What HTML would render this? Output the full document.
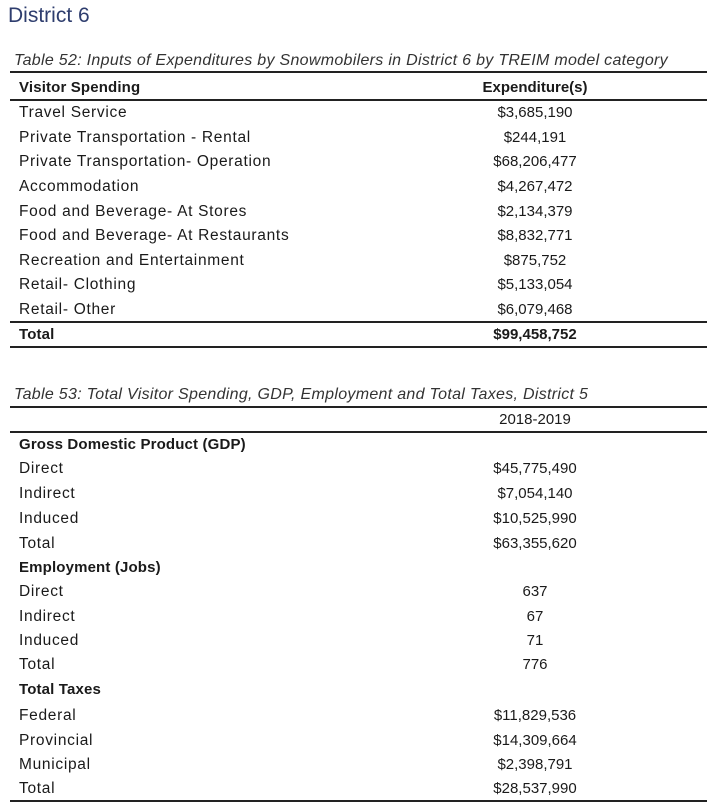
<!DOCTYPE html>
<html><head><meta charset="utf-8"><style>
body{margin:0;width:718px;height:808px;background:#fff;position:relative;overflow:hidden;font-family:"Liberation Sans",sans-serif;color:#1a1a1a}
.t{position:absolute;font-size:15px;line-height:20px;white-space:nowrap}
.l{left:19px;font-size:15.5px;letter-spacing:0.7px}
.l.b{font-size:15px;letter-spacing:0.15px}
.v{left:435px;width:200px;text-align:center}
.b{font-weight:bold}
.c{position:absolute;left:14px;font-size:16px;font-style:italic;color:#333;line-height:20px;white-space:nowrap;letter-spacing:0.3px}
.h{position:absolute;left:10px;width:697px;height:2px;background:#222}
</style></head><body>
<div style="position:absolute;left:8px;top:3px;font-size:21px;color:#2e3d6e;line-height:26px">District 6</div>

<div class="c" style="top:51px">Table 52: Inputs of Expenditures by Snowmobilers in District 6 by TREIM model category</div>
<div class="h" style="top:71px"></div>
<div class="t l b" style="top:78px">Visitor Spending</div><div class="t v b" style="top:78px">Expenditure(s)</div>
<div class="h" style="top:99px"></div>
<div class="t l" style="top:103px">Travel Service</div><div class="t v" style="top:103px">$3,685,190</div>
<div class="t l" style="top:128px">Private Transportation - Rental</div><div class="t v" style="top:128px">$244,191</div>
<div class="t l" style="top:152px">Private Transportation- Operation</div><div class="t v" style="top:152px">$68,206,477</div>
<div class="t l" style="top:177px">Accommodation</div><div class="t v" style="top:177px">$4,267,472</div>
<div class="t l" style="top:202px">Food and Beverage- At Stores</div><div class="t v" style="top:202px">$2,134,379</div>
<div class="t l" style="top:226px">Food and Beverage- At Restaurants</div><div class="t v" style="top:226px">$8,832,771</div>
<div class="t l" style="top:251px">Recreation and Entertainment</div><div class="t v" style="top:251px">$875,752</div>
<div class="t l" style="top:275px">Retail- Clothing</div><div class="t v" style="top:275px">$5,133,054</div>
<div class="t l" style="top:300px">Retail- Other</div><div class="t v" style="top:300px">$6,079,468</div>
<div class="h" style="top:321px"></div>
<div class="t l b" style="top:325px">Total</div><div class="t v b" style="top:325px">$99,458,752</div>
<div class="h" style="top:346px"></div>

<div class="c" style="top:385px">Table 53: Total Visitor Spending, GDP, Employment and Total Taxes, District 5</div>
<div class="h" style="top:406px"></div>
<div class="t v" style="top:410px">2018-2019</div>
<div class="h" style="top:431px"></div>
<div class="t l b" style="top:435px">Gross Domestic Product (GDP)</div>
<div class="t l" style="top:459px">Direct</div><div class="t v" style="top:459px">$45,775,490</div>
<div class="t l" style="top:484px">Indirect</div><div class="t v" style="top:484px">$7,054,140</div>
<div class="t l" style="top:509px">Induced</div><div class="t v" style="top:509px">$10,525,990</div>
<div class="t l" style="top:534px">Total</div><div class="t v" style="top:534px">$63,355,620</div>
<div class="t l b" style="top:558px">Employment (Jobs)</div>
<div class="t l" style="top:582px">Direct</div><div class="t v" style="top:582px">637</div>
<div class="t l" style="top:607px">Indirect</div><div class="t v" style="top:607px">67</div>
<div class="t l" style="top:631px">Induced</div><div class="t v" style="top:631px">71</div>
<div class="t l" style="top:655px">Total</div><div class="t v" style="top:655px">776</div>
<div class="t l b" style="top:680px">Total Taxes</div>
<div class="t l" style="top:706px">Federal</div><div class="t v" style="top:706px">$11,829,536</div>
<div class="t l" style="top:731px">Provincial</div><div class="t v" style="top:731px">$14,309,664</div>
<div class="t l" style="top:755px">Municipal</div><div class="t v" style="top:755px">$2,398,791</div>
<div class="t l" style="top:779px">Total</div><div class="t v" style="top:779px">$28,537,990</div>
<div class="h" style="top:800px"></div>
</body></html>
